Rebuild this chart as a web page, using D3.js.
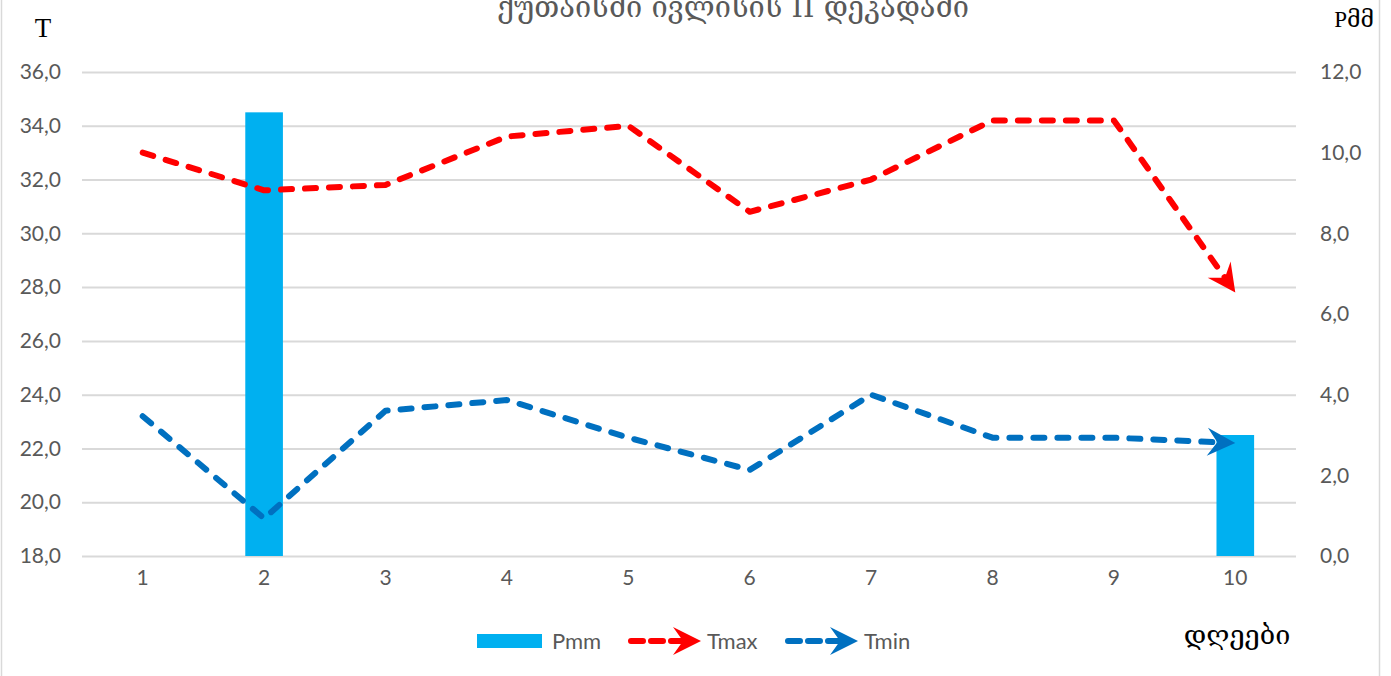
<!DOCTYPE html>
<html><head><meta charset="utf-8">
<script src="https://cdn.jsdelivr.net/npm/d3@7"></script>
<style>body{margin:0;background:#fff}svg{display:block}</style>
</head><body><svg id="c" width="1391" height="676"></svg>
<script>
const days = ["1","2","3","4","5","6","7","8","9","10"];
const pmm = [0, 11.0, 0, 0, 0, 0, 0, 0, 0, 3.0];
const tmax = [33.0, 31.6, 31.8, 33.6, 34.0, 30.8, 32.0, 34.2, 34.2, 27.8];
const tmin = [23.2, 19.4, 23.4, 23.8, 22.4, 21.2, 24.0, 22.4, 22.4, 22.2];
const leftTicks = [18, 20, 22, 24, 26, 28, 30, 32, 34, 36];
const rightTicks = [0, 2, 4, 6, 8, 10, 12];
const titleText = "ქუთაისში ივლისის II დეკადაში";
const xTitle = "დღეები";
const seriesNames = ["Pmm", "Tmax", "Tmin"];

(function () {
const svg = d3.select("#c");
const W = 1391, H = 676;
const pl = 82, pr = 1296, pt = 72, pb = 556;
const cBar = "#00B0F0", cMax = "#FF0000", cMin = "#0070C0", cGrid = "#D9D9D9", cText = "#595959";
const tickFont = "Lato, 'Open Sans', sans-serif";

svg.append("rect").attr("width", W).attr("height", H).attr("fill", "#fff");
svg.append("line").attr("x1", 1.5).attr("x2", 1.5).attr("y1", 0).attr("y2", H).attr("stroke", cGrid).attr("stroke-width", 1.5);
svg.append("line").attr("x1", 1379.5).attr("x2", 1379.5).attr("y1", 0).attr("y2", H).attr("stroke", cGrid).attr("stroke-width", 1.5);

const x = d3.scaleBand().domain(days).range([pl, pr]).paddingInner(0.69).paddingOuter(0.345);
const cx = d => x(d) + x.bandwidth() / 2;
const yL = d3.scaleLinear().domain([18, 36]).range([pb, pt]);
const yR = d3.scaleLinear().domain([0, 12]).range([pb, pt]);
const fmt = d => d3.format(".1f")(d).replace(".", ",");

const gL = svg.append("g").attr("transform", `translate(${pl},0)`)
  .call(d3.axisLeft(yL).tickValues(leftTicks).tickSize(-(pr - pl)).tickFormat(fmt).tickPadding(21));
gL.select(".domain").remove();
gL.selectAll(".tick line").attr("stroke", cGrid).attr("stroke-width", 2);
gL.selectAll(".tick text").attr("fill", cText).style("font-family", tickFont).style("font-size", "21px");

const gR = svg.append("g").attr("transform", `translate(${pr},0)`)
  .call(d3.axisRight(yR).tickValues(rightTicks).tickSize(0).tickFormat(fmt).tickPadding(24));
gR.select(".domain").remove();
gR.selectAll(".tick text").attr("fill", cText).style("font-family", tickFont).style("font-size", "21px");

const gX = svg.append("g").attr("transform", `translate(0,${pb})`)
  .call(d3.axisBottom(x).tickSize(0).tickPadding(14));
gX.select(".domain").remove();
gX.selectAll(".tick text").attr("fill", cText).style("font-family", tickFont).style("font-size", "21px");

const barData = days.map((d, i) => ({d, v: pmm[i]})).filter(o => o.v > 0);
svg.append("g").selectAll("rect").data(barData).join("rect")
  .attr("x", o => x(o.d)).attr("width", x.bandwidth())
  .attr("y", o => yR(o.v)).attr("height", o => yR(0) - yR(o.v))
  .attr("fill", cBar);

const arrowPath = "M0,0 L-28,-14 L-18,0 L-28,14 Z";

function drawSeries(vals, color) {
  const pts = days.map((d, i) => [cx(d), yL(vals[i])]);
  const n = pts.length;
  const [x1, y1] = pts[n - 2], [x2, y2] = pts[n - 1];
  const ang = Math.atan2(y2 - y1, x2 - x1);
  const linePts = pts.slice(0, n - 1).concat([[x2 - 18 * Math.cos(ang), y2 - 18 * Math.sin(ang)]]);
  svg.append("path").attr("d", d3.line()(linePts))
    .attr("fill", "none").attr("stroke", color).attr("stroke-width", 6)
    .attr("stroke-dasharray", "11,13").attr("stroke-linecap", "round").attr("stroke-linejoin", "round");
  svg.append("path").attr("d", arrowPath)
    .attr("transform", `translate(${x2},${y2}) rotate(${ang * 180 / Math.PI})`)
    .attr("fill", color);
}
drawSeries(tmax, cMax);
drawSeries(tmin, cMin);

svg.append("text").attr("x", 733).attr("y", 17).attr("text-anchor", "middle")
  .attr("fill", cText).style("font-family", "'DejaVu Serif', 'DejaVu Sans', serif").style("font-size", "29px").text(titleText);
svg.append("text").attr("x", 43).attr("y", 37).attr("text-anchor", "middle")
  .attr("fill", "#000").style("font-family", "'Liberation Serif', serif").style("font-size", "27px").text("T");
svg.append("text").attr("x", 1374).attr("y", 27).attr("text-anchor", "end")
  .attr("fill", "#000").style("font-family", "'Liberation Serif', 'DejaVu Serif', serif").style("font-size", "23px").text("Pმმ");
svg.append("text").attr("x", 1237).attr("y", 644).attr("text-anchor", "middle")
  .attr("fill", "#000").style("font-family", "'DejaVu Serif', 'DejaVu Sans', serif").style("font-size", "27px").text(xTitle);

const ly = 641;
const lg = svg.append("g");
lg.append("rect").attr("x", 477).attr("y", ly - 7).attr("width", 65).attr("height", 14).attr("fill", cBar);
lg.append("text").attr("x", 552).attr("y", ly + 8).attr("fill", cText).style("font-family", tickFont).style("font-size", "22px").text(seriesNames[0]);
function legLine(x0, color, label) {
  lg.append("path").attr("d", `M${x0},${ly} L${x0 + 52},${ly}`).attr("stroke", color).attr("stroke-width", 6)
    .attr("stroke-dasharray", "12,8").attr("stroke-linecap", "round");
  lg.append("path").attr("d", arrowPath).attr("transform", `translate(${x0 + 70},${ly})`).attr("fill", color);
  lg.append("text").attr("x", x0 + 76).attr("y", ly + 8).attr("fill", cText).style("font-family", tickFont).style("font-size", "22px").text(label);
}
legLine(631, cMax, seriesNames[1]);
legLine(788, cMin, seriesNames[2]);
})();
</script></body></html>
